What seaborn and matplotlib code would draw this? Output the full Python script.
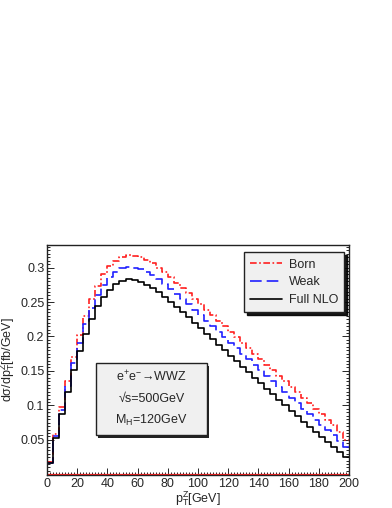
import matplotlib
matplotlib.use('Agg')
import matplotlib.pyplot as plt
from matplotlib.patches import Rectangle
from matplotlib.ticker import MultipleLocator
import seaborn as sns
import numpy as np
import pandas as pd

# bin edges of the pT(Z) histogram, 4 GeV bins
bin_edges = list(range(0, 204, 4))
bin_centers = [e + 2 for e in bin_edges[:-1]]

# dsigma/dpT [fb/GeV]
born = [0.018, 0.058, 0.097, 0.135, 0.170, 0.202, 0.230, 0.254, 0.274, 0.290,
        0.302, 0.310, 0.316, 0.318, 0.317, 0.315, 0.311, 0.306, 0.300, 0.293,
        0.286, 0.278, 0.271, 0.263, 0.255, 0.247, 0.239, 0.231, 0.223, 0.215,
        0.207, 0.199, 0.191, 0.183, 0.175, 0.167, 0.159, 0.151, 0.143, 0.135,
        0.127, 0.119, 0.111, 0.103, 0.095, 0.087, 0.079, 0.071, 0.062, 0.050]
weak = [0.017, 0.055, 0.093, 0.128, 0.161, 0.191, 0.218, 0.241, 0.260, 0.275,
        0.286, 0.294, 0.299, 0.301, 0.300, 0.298, 0.294, 0.289, 0.283, 0.276,
        0.269, 0.262, 0.255, 0.247, 0.239, 0.231, 0.223, 0.215, 0.207, 0.199,
        0.191, 0.183, 0.175, 0.167, 0.159, 0.151, 0.143, 0.135, 0.127, 0.119,
        0.111, 0.103, 0.095, 0.087, 0.079, 0.071, 0.064, 0.057, 0.049, 0.040]
full_nlo = [0.016, 0.052, 0.087, 0.120, 0.151, 0.179, 0.204, 0.226, 0.244, 0.258,
            0.268, 0.276, 0.281, 0.283, 0.282, 0.279, 0.275, 0.270, 0.264, 0.257,
            0.250, 0.243, 0.236, 0.228, 0.220, 0.212, 0.204, 0.196, 0.188, 0.180,
            0.172, 0.164, 0.156, 0.148, 0.140, 0.132, 0.124, 0.116, 0.108, 0.100,
            0.092, 0.084, 0.076, 0.068, 0.061, 0.054, 0.047, 0.040, 0.033, 0.025]

series_names = ['Born', 'Weak', 'Full NLO']
series_values = [born, weak, full_nlo]
series_colors = ['#ff2020', '#2020ff', '#000000']
series_dashes = [(0, (4, 1.5, 1, 1.5)), (0, (7, 3)), 'solid']

sns.set_style('ticks')
plt.rcParams['font.family'] = ['Liberation Sans', 'DejaVu Sans']
plt.rcParams['mathtext.default'] = 'regular'

fig = plt.figure(figsize=(3.92, 5.08), dpi=100)
ax = fig.add_axes([0.120, 0.065, 0.770, 0.453])

for name, vals, col, ls in zip(series_names, series_values, series_colors, series_dashes):
    df = pd.DataFrame({'pt': bin_centers, 'w': vals})
    sns.histplot(data=df, x='pt', weights='w', bins=bin_edges, element='step',
                 fill=False, color=col, linestyle=ls, linewidth=1.2, label=name, ax=ax)

# red baseline at zero
ax.axhline(0, color='#ff2020', lw=0.9)

ax.set_xlim(0, 200)
ax.set_ylim(-0.001, 0.333)
ax.set_xlabel('p$_T^Z$[GeV]', fontsize=9)
ax.xaxis.set_label_coords(0.5, -0.062)
ax.set_ylabel('dσ/dp$_T^Z$[fb/GeV]', fontsize=9)
ax.yaxis.set_label_coords(-0.098, 0.5)

ax.xaxis.set_major_locator(MultipleLocator(20))
ax.xaxis.set_minor_locator(MultipleLocator(2))
ax.yaxis.set_major_locator(MultipleLocator(0.05))
ax.yaxis.set_minor_locator(MultipleLocator(0.005))
ax.set_yticks([0.05, 0.1, 0.15, 0.2, 0.25, 0.3])
ax.set_yticklabels(['0.05', '0.1', '0.15', '0.2', '0.25', '0.3'])
ax.tick_params(which='both', direction='in', right=True, labelsize=9, pad=2, width=0.7)
ax.tick_params(which='major', length=5)
ax.tick_params(which='minor', length=2.5)
for sp in ax.spines.values():
    sp.set_linewidth(1.0)
    sp.set_color('#222222')

leg = ax.legend(loc='upper right', bbox_to_anchor=(0.985, 0.967), fontsize=9,
                frameon=True, fancybox=False, shadow={'color': 'black', 'alpha': 0.9},
                handlelength=2.6, borderpad=0.5, labelspacing=0.45,
                handletextpad=0.5, borderaxespad=0)
leg.get_frame().set_facecolor('#f0f0f0')
leg.get_frame().set_edgecolor('#222222')
leg.get_frame().set_linewidth(1.0)

# process info box with drop shadow
ax.add_patch(Rectangle((0.170, 0.160), 0.368, 0.313, transform=ax.transAxes,
                       facecolor='#222222', edgecolor='none', zorder=4))
ax.add_patch(Rectangle((0.162, 0.174), 0.368, 0.313, transform=ax.transAxes,
                       facecolor='#f0f0f0', edgecolor='#222222', lw=1.0, zorder=5))
box_lines = ['e$^{+}$e$^{-}$→WWZ', '√s=500GeV', 'M$_H$=120GeV']
for i, txt in enumerate(box_lines):
    ax.text(0.346, 0.425 - i * 0.095, txt, transform=ax.transAxes, ha='center',
            va='center', fontsize=9, zorder=6)

fig.savefig('out.png', dpi=100)
